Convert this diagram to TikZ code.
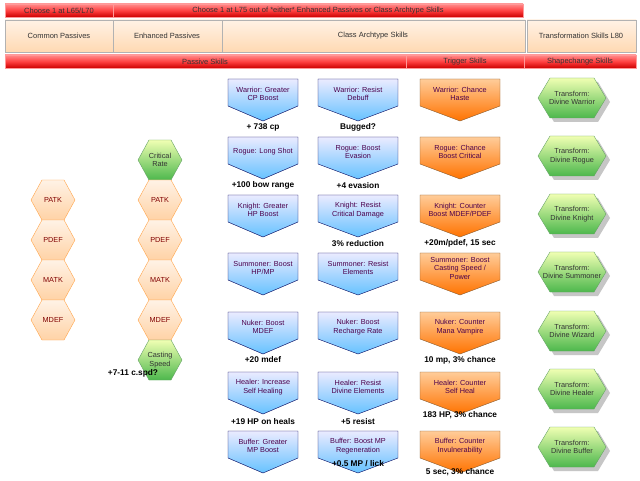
\documentclass[tikz,border=0pt]{standalone}
\usepackage{fontspec}
\setmainfont{Liberation Sans}
\begin{document}
\begin{tikzpicture}[x=1pt,y=-1pt,
 lbl/.style={font=\fontsize{7.5}{8.5}\selectfont,text=black!80},
 redbar/.style={draw=red!40!white,top color=red!45!white,bottom color=red!80!black,middle color=red!75!white},
 tanbox/.style={draw=gray!60,top color=orange!10,bottom color=orange!30},
 blue/.style={draw=blue!35!black,top color=blue!8,bottom color=blue!40!cyan!60!white},
 orng/.style={draw=brown!70!black,top color=orange!40,bottom color=orange!90!red},
 hexo/.style={draw=orange!70,top color=orange!10,bottom color=orange!35},
 hexg/.style={draw=green!40!black!60,top color=green!20!yellow!30,bottom color=green!60!black!70},
 ptxt/.style={font=\fontsize{7.3}{8.5}\selectfont,text=violet!60!black,align=center},
 note/.style={font=\bfseries\fontsize{8.3}{9.5}\selectfont}]
\useasboundingbox (0,0) rectangle (640,481);
\fill[white] (0,0) rectangle (640,481);
% top bars
\draw[redbar] (5,4) rectangle (113,17); \node[lbl] (h1) at (59,10.5) {Choose 1 at L65/L70};
\draw[redbar] (113,4) rectangle (523,17); \node[lbl] (h2) at (318,10.5) {Choose 1 at L75 out of *either* Enhanced Passives or Class Archtype Skills};
\draw[tanbox] (5,20) rectangle (113,52); \node[lbl] (t1) at (59,36) {Common Passives};
\draw[tanbox] (113,20) rectangle (222,52); \node[lbl] (t2) at (167,36) {Enhanced Passives};
\draw[tanbox] (222,20) rectangle (525,52); \node[lbl] (t3) at (373,36) {Class Archtype Skills};
\draw[tanbox] (527,20) rectangle (636,52); \node[lbl] (t4) at (581,36) {Transformation Skills L80};
\draw[redbar] (5,55) rectangle (406,68); \node[lbl] (b1) at (205,61.5) {Passive Skills};
\draw[redbar] (406,55) rectangle (524,68); \node[lbl] (b2) at (465,61.5) {Trigger Skills};
\draw[redbar] (524,55) rectangle (636,68); \node[lbl] (b3) at (580,61.5) {Shapechange Skills};
% hexagons
\newcommand{\hexa}[5]{\draw[#4] (#1-22,#2) -- (#1-11,#2-20) -- (#1+11,#2-20) -- (#1+22,#2) -- (#1+11,#2+20) -- (#1-11,#2+20) -- cycle;
 \node[ptxt,text=#5] at (#1,#2) {#3};}
\hexa{53}{200}{PATK}{hexo}{red!50!black}
\hexa{53}{240}{PDEF}{hexo}{red!50!black}
\hexa{53}{280}{MATK}{hexo}{red!50!black}
\hexa{53}{320}{MDEF}{hexo}{red!50!black}
\hexa{160}{160}{Critical\\Rate}{hexg}{black!80}
\hexa{160}{200}{PATK}{hexo}{red!50!black}
\hexa{160}{240}{PDEF}{hexo}{red!50!black}
\hexa{160}{280}{MATK}{hexo}{red!50!black}
\hexa{160}{320}{MDEF}{hexo}{red!50!black}
\hexa{160}{360}{Casting\\Speed}{hexg}{black!80}
\node[note] (n0) at (133,373) {+7-11 c.spd?};
% pentagons
\newcommand{\pent}[5]{\draw[#4] (#1-#5,#2) -- (#1+#5,#2) -- (#1+#5,#2+27) -- (#1,#2+42) -- (#1-#5,#2+27) -- cycle;
 \node[ptxt] at (#1,#2+15) {#3};}
\newcommand{\row}[4]{\pent{263}{#1}{#2}{blue}{35}\pent{358}{#1}{#3}{blue}{40}\pent{460}{#1}{#4}{orng}{40}}
\row{79}{Warrior: Greater\\CP Boost}{Warrior: Resist\\Debuff}{Warrior: Chance\\Haste}
\row{137}{Rogue: Long Shot}{Rogue: Boost\\Evasion}{Rogue: Chance\\Boost Critical}
\row{195}{Knight: Greater\\HP Boost}{Knight: Resist\\Critical Damage}{Knight: Counter\\Boost MDEF/PDEF}
\row{253}{Summoner: Boost\\HP/MP}{Summoner: Resist\\Elements}{Summoner: Boost\\Casting Speed /\\Power}
\row{312}{Nuker: Boost\\MDEF}{Nuker: Boost\\Recharge Rate}{Nuker: Counter\\Mana Vampire}
\row{372}{Healer: Increase\\Self Healing}{Healer: Resist\\Divine Elements}{Healer: Counter\\Self Heal}
\row{431}{Buffer: Greater\\MP Boost}{Buffer: Boost MP\\Regeneration}{Buffer: Counter\\Invulnerability}
% notes
\node[note] (a1) at (263,127) {+ 738 cp};
\node[note] (a2) at (358,127) {Bugged?};
\node[note] (a3) at (263,185) {+100 bow range};
\node[note] (a4) at (358,186) {+4 evasion};
\node[note] (a5) at (358,244) {3\% reduction};
\node[note] (a6) at (460,243) {+20m/pdef, 15 sec};
\node[note] (a7) at (263,360) {+20 mdef};
\node[note] (a8) at (460,360) {10 mp, 3\% chance};
\node[note] (a9) at (263,422) {+19 HP on heals};
\node[note] (a10) at (358,422) {+5 resist};
\node[note] (a11) at (460,415) {183 HP, 3\% chance};
\node[note] (a12) at (358,464) {+0.5 MP / lick};
\node[note] (a13) at (460,472) {5 sec, 3\% chance};
% transform hexagons
\newcommand{\thex}[2]{
 \fill[gray!45] (542,#1+4) -- (554,#1-16) -- (598,#1-16) -- (610,#1+4) -- (598,#1+24) -- (554,#1+24) -- cycle;
 \draw[hexg] (538,#1) -- (550,#1-20) -- (594,#1-20) -- (606,#1) -- (594,#1+20) -- (550,#1+20) -- cycle;
 \node[ptxt,text=black!80] at (572,#1) {Transform:\\#2};}
\thex{98}{Divine Warrior}
\thex{156}{Divine Rogue}
\thex{214}{Divine Knight}
\thex{272}{Divine Summoner}
\thex{331}{Divine Wizard}
\thex{389}{Divine Healer}
\thex{447}{Divine Buffer}
\end{tikzpicture}
\end{document}
